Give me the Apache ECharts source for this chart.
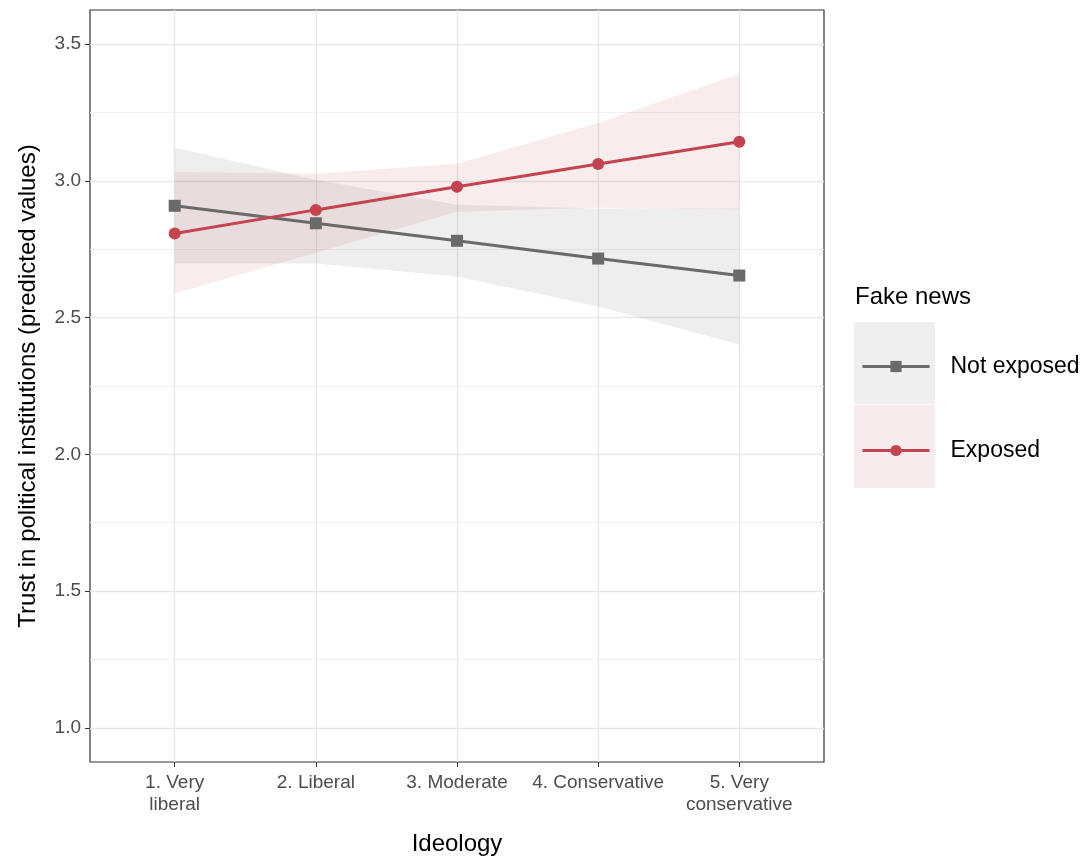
<!DOCTYPE html>
<html>
<head>
<meta charset="utf-8">
<script src="https://cdn.jsdelivr.net/npm/echarts@6/dist/echarts.min.js"></script>
<style>html,body{margin:0;padding:0;background:#fff;}#c{width:1091px;height:861px;}</style>
</head>
<body>
<div id="c"></div>
<script>
const categories = ["1. Very\nliberal", "2. Liberal", "3. Moderate", "4. Conservative", "5. Very\nconservative"];
const xPos = [1, 2, 3, 4, 5];
const notExposed = [2.909, 2.845, 2.781, 2.716, 2.654];
const notExposedLow = [2.698, 2.698, 2.650, 2.541, 2.402];
const notExposedHigh = [3.121, 3.004, 2.913, 2.899, 2.899];
const exposed = [2.808, 2.894, 2.979, 3.062, 3.143];
const exposedLow = [2.588, 2.737, 2.887, 2.902, 2.895];
const exposedHigh = [3.033, 3.026, 3.063, 3.212, 3.391];
const yTicks = [1.0, 1.5, 2.0, 2.5, 3.0, 3.5];
const yMinorTicks = [1.25, 1.75, 2.25, 2.75, 3.25];

const FONT = "Liberation Sans, Arial, sans-serif";
const GREY = "#6a6a6a", RED = "#c3434f";

function bandData(lo, hi) { return xPos.map((x, i) => [x, lo[i], hi[i]]); }
function lineData(v) { return xPos.map((x, i) => [x, v[i]]); }

function bandSeries(name, lo, hi, color, alpha) {
  return {
    type: 'custom', name: name, silent: true, z: 1,
    data: bandData(lo, hi),
    encode: { x: 0, y: [1, 2] },
    renderItem: function (params, api) {
      if (params.dataIndexInside !== 0) return null;
      const n = xPos.length;
      const pts = [];
      for (let i = 0; i < n; i++) pts.push(api.coord([api.value(0, i), api.value(2, i)]));
      for (let i = n - 1; i >= 0; i--) pts.push(api.coord([api.value(0, i), api.value(1, i)]));
      return { type: 'polygon', shape: { points: pts }, style: { fill: color, opacity: alpha } };
    }
  };
}

const chart = echarts.init(document.getElementById('c'), null, { renderer: 'canvas' });
chart.setOption({
  animation: false,
  backgroundColor: '#fff',
  textStyle: { fontFamily: FONT },
  title: {
    text: 'Fake news', left: 850, top: 280,
    textStyle: { fontFamily: FONT, fontSize: 24, fontWeight: 'normal', color: '#000' }
  },
  legend: {
    data: ['Not exposed', 'Exposed'],
    orient: 'vertical', left: 856, top: 350,
    itemWidth: 67, itemHeight: 14, itemGap: 61,
    selectedMode: false,
    lineStyle: { width: 3 },
    textStyle: { fontFamily: FONT, fontSize: 23, color: '#000', padding: [0, 0, 0, 16] }
  },
  graphic: [
    { type: 'rect', left: 854, top: 322, shape: { width: 81, height: 82 }, style: { fill: '#efefef' }, z: -1 },
    { type: 'rect', left: 854, top: 405, shape: { width: 81, height: 83 }, style: { fill: '#f7ebed' }, z: -1 }
  ],
  grid: {
    left: 90, right: 267, top: 10, bottom: 98,
    show: true, borderColor: '#333333', borderWidth: 1.2, backgroundColor: 'transparent'
  },
  xAxis: {
    type: 'value', min: 0.4, max: 5.6, interval: 0.2,
    name: 'Ideology', nameLocation: 'middle', nameGap: 70,
    nameTextStyle: { fontFamily: FONT, fontSize: 24, color: '#000' },
    axisLine: { show: false },
    axisTick: { show: true, customValues: xPos, length: 5, lineStyle: { color: '#333333', width: 1 } },
    axisLabel: {
      customValues: xPos, margin: 10, color: '#4d4d4d', fontFamily: FONT, fontSize: 19, lineHeight: 22,
      formatter: function (v) { const i = Math.round(v) - 1; return categories[i] || ''; }
    },
    splitLine: { show: true, lineStyle: { color: '#e8e8e8', width: 1.3 } }
  },
  yAxis: [
    {
      type: 'value', min: 0.875, max: 3.625, interval: 0.125,
      name: 'Trust in political institutions (predicted values)', nameLocation: 'middle', nameGap: 50,
      nameTextStyle: { fontFamily: FONT, fontSize: 24, color: '#000' },
      axisLine: { show: false },
      axisTick: { show: true, customValues: yTicks, length: 5, lineStyle: { color: '#333333', width: 1 } },
      axisLabel: {
        customValues: yTicks, margin: 9, color: '#4d4d4d', fontFamily: FONT, fontSize: 19,
        formatter: function (v) { return v.toFixed(1); }
      },
      splitLine: { show: true, lineStyle: { color: '#e8e8e8', width: 1.3 } }
    },
    {
      type: 'value', min: 0.875, max: 3.625, interval: 0.125, position: 'left',
      axisLine: { show: false },
      axisTick: { show: false, customValues: yMinorTicks },
      axisLabel: { show: false, customValues: yMinorTicks },
      splitLine: { show: true, lineStyle: { color: '#f0f0f0', width: 1 } }
    }
  ],
  series: [
    bandSeries('Not exposed band', notExposedLow, notExposedHigh, '#666666', 0.11),
    bandSeries('Exposed band', exposedLow, exposedHigh, RED, 0.1),
    {
      name: 'Not exposed', type: 'line', data: lineData(notExposed), z: 3,
      symbol: 'rect', symbolSize: 12, showSymbol: true,
      lineStyle: { color: GREY, width: 3 }, itemStyle: { color: GREY }
    },
    {
      name: 'Exposed', type: 'line', data: lineData(exposed), z: 3,
      symbol: 'circle', symbolSize: 12, showSymbol: true,
      lineStyle: { color: RED, width: 3 }, itemStyle: { color: RED }
    }
  ]
});
</script>
</body>
</html>
